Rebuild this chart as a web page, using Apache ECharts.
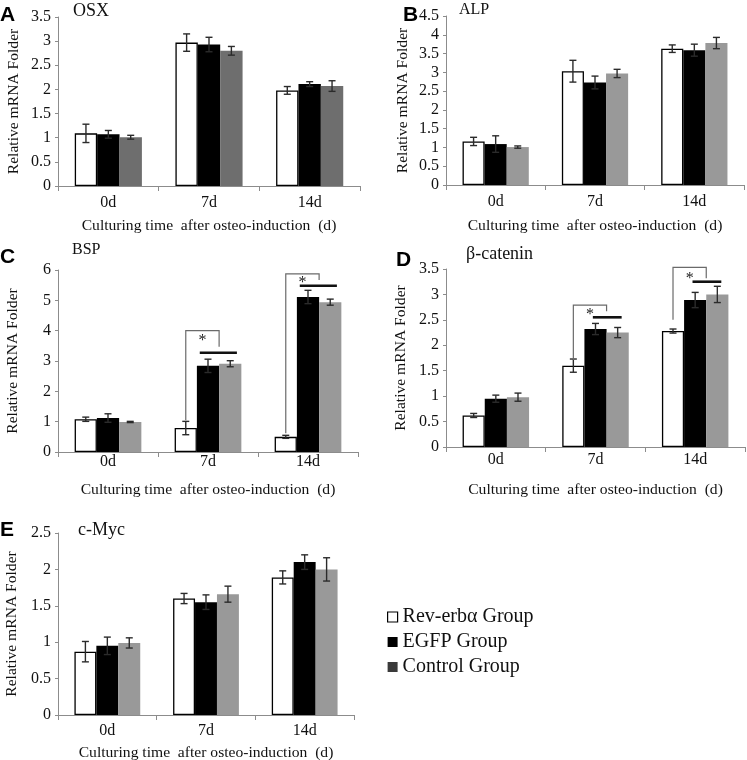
<!DOCTYPE html>
<html><head><meta charset="utf-8">
<script src="https://cdn.jsdelivr.net/npm/echarts@6/dist/echarts.min.js"></script>
<style>html,body{margin:0;padding:0;background:#fff}#c{width:747px;height:760px}</style>
</head><body><div id="c"></div>
<script>
// ---------- data ----------
const categories = ['0d', '7d', '14d'];
const groupNames = ['Rev-erbα Group', 'EGFP Group', 'Control Group'];
const xAxisTitle = 'Culturing time  after osteo-induction  (d)';
const yAxisTitle = 'Relative mRNA Folder';

const osxRev = [1.09, 2.97, 1.98];   const osxRevErr = [0.19, 0.18, 0.08];
const osxEgfp = [1.07, 2.93, 2.11];  const osxEgfpErr = [0.08, 0.15, 0.05];
const osxCtrl = [1.01, 2.80, 2.07];  const osxCtrlErr = [0.04, 0.09, 0.11];

const alpRev = [1.16, 3.03, 3.63];   const alpRevErr = [0.11, 0.29, 0.10];
const alpEgfp = [1.09, 2.73, 3.59];  const alpEgfpErr = [0.22, 0.17, 0.16];
const alpCtrl = [1.01, 2.97, 3.78];  const alpCtrlErr = [0.03, 0.11, 0.15];

const bspRev = [1.08, 0.79, 0.50];   const bspRevErr = [0.07, 0.22, 0.05];
const bspEgfp = [1.12, 2.84, 5.11];  const bspEgfpErr = [0.14, 0.22, 0.22];
const bspCtrl = [0.99, 2.91, 4.94];  const bspCtrlErr = [0.02, 0.10, 0.10];

const catRev = [0.62, 1.60, 2.28];   const catRevErr = [0.04, 0.13, 0.04];
const catEgfp = [0.95, 2.32, 2.89];  const catEgfpErr = [0.07, 0.11, 0.15];
const catCtrl = [0.98, 2.25, 3.00];  const catCtrlErr = [0.08, 0.10, 0.16];

const mycRev = [0.87, 1.60, 1.89];   const mycRevErr = [0.14, 0.07, 0.09];
const mycEgfp = [0.95, 1.55, 2.10];  const mycEgfpErr = [0.12, 0.10, 0.10];
const mycCtrl = [0.99, 1.66, 2.00];  const mycCtrlErr = [0.07, 0.11, 0.16];

// significance brackets: [category, leftLegBottom, top, rightLegBottom, barLine, star]
const bspBrackets = [[1, 1.05, 4.00, 3.47, 3.27, 3.80], [2, 0.62, 5.87, 5.67, 5.48, 5.70]];
const catBrackets = [[1, 1.71, 2.79, 2.67, 2.55, 2.68], [2, 2.50, 3.53, 3.32, 3.25, 3.39]];

const panels = [
  {letter: 'A', gene: 'OSX', vals: [osxRev, osxEgfp, osxCtrl], errs: [osxRevErr, osxEgfpErr, osxCtrlErr], max: 3.5, interval: 0.5, brackets: null},
  {letter: 'B', gene: 'ALP', vals: [alpRev, alpEgfp, alpCtrl], errs: [alpRevErr, alpEgfpErr, alpCtrlErr], max: 4.5, interval: 0.5, brackets: null},
  {letter: 'C', gene: 'BSP', vals: [bspRev, bspEgfp, bspCtrl], errs: [bspRevErr, bspEgfpErr, bspCtrlErr], max: 6, interval: 1, brackets: bspBrackets},
  {letter: 'D', gene: 'β-catenin', vals: [catRev, catEgfp, catCtrl], errs: [catRevErr, catEgfpErr, catCtrlErr], max: 3.5, interval: 0.5, brackets: catBrackets},
  {letter: 'E', gene: 'c-Myc', vals: [mycRev, mycEgfp, mycCtrl], errs: [mycRevErr, mycEgfpErr, mycCtrlErr], max: 2.5, interval: 0.5, brackets: null}
];

// ---------- layout / style ----------
const SERIF = "'Liberation Serif','Times New Roman',serif";
const SANS = "'Liberation Sans',Arial,sans-serif";
const GAP = 0.333;
const AXIS_COLOR = '#8c8c8c';
const layout = [
  {grid: {left: 58, top: 17, width: 302, height: 169}, letter: [0, 16], gene: [73, 12, 18], lblMargin: 9, nameGap: 32, yNameGap: 36, gray: '#6e6e6e', line: null},
  {grid: {left: 446, top: 16, width: 298, height: 169}, letter: [403, 16], gene: [459, 11, 16], lblMargin: 9, nameGap: 33, yNameGap: 35, gray: '#999999', line: null},
  {grid: {left: 58, top: 270, width: 300, height: 182}, letter: [0, 258], gene: [72, 251, 16], lblMargin: 2, nameGap: 30, yNameGap: 37, gray: '#999999', line: [-0.37, 1.3]},
  {grid: {left: 446, top: 269, width: 299, height: 178}, letter: [396, 261], gene: [466, 255, 18], lblMargin: 5, nameGap: 35, yNameGap: 37, gray: '#999999', line: [-0.12, 1.18]},
  {grid: {left: 58, top: 533, width: 296, height: 182}, letter: [0, 531], gene: [78, 531, 18], lblMargin: 8, nameGap: 30, yNameGap: 38, gray: '#999999', line: null}
];

function errRender(params, api) {
  const cat = api.value(0), s = api.value(1), v = api.value(2), e = api.value(3);
  const band = api.size([1, 0])[0];
  const bw = band * (1 - GAP) / 3;
  const x = api.coord([cat, v])[0] + (s - 1) * bw;
  const yT = api.coord([cat, v + e])[1], yB = api.coord([cat, v - e])[1];
  const cap = 3.5, st = {stroke: '#2b2b2b', lineWidth: 1.4};
  return {type: 'group', children: [
    {type: 'line', shape: {x1: x, y1: yT, x2: x, y2: yB}, style: st},
    {type: 'line', shape: {x1: x - cap, y1: yT, x2: x + cap, y2: yT}, style: st},
    {type: 'line', shape: {x1: x - cap, y1: yB, x2: x + cap, y2: yB}, style: st}
  ]};
}

function makeBracketRender(lineExt) {
  return function (params, api) {
    const cat = api.value(0);
    const band = api.size([1, 0])[0];
    const bw = band * (1 - GAP) / 3;
    const cx = api.coord([cat, 0])[0];
    const xl = cx - bw, xr = cx + bw / 2;
    const y = (v) => api.coord([cat, v])[1];
    const yLB = y(api.value(1)), yTop = y(api.value(2)), yRB = y(api.value(3)), yLine = y(api.value(4)), yStar = y(api.value(5));
    return {type: 'group', children: [
      {type: 'polyline', shape: {points: [[xl, yLB], [xl, yTop], [xr, yTop], [xr, yRB]]}, style: {stroke: '#6a6a6a', lineWidth: 1.2, fill: null}},
      {type: 'line', shape: {x1: cx + lineExt[0] * bw, y1: yLine, x2: cx + lineExt[1] * bw, y2: yLine}, style: {stroke: '#111', lineWidth: 2.6}},
      {type: 'text', x: (xl + xr) / 2, y: yStar + 4, style: {text: '*', font: '16px ' + SERIF, fill: '#222', align: 'center', verticalAlign: 'middle'}}
    ]};
  };
}

const grids = [], xAxes = [], yAxes = [], series = [], graphics = [];
panels.forEach((p, i) => {
  const L = layout[i];
  grids.push(Object.assign({outerBoundsMode: 'none', containLabel: false}, L.grid));
  xAxes.push({
    type: 'category', gridIndex: i, data: categories,
    name: xAxisTitle, nameLocation: 'middle', nameGap: L.nameGap,
    nameTextStyle: {fontFamily: SERIF, fontSize: 15.6, color: '#111'},
    axisLine: {show: true, lineStyle: {color: AXIS_COLOR, width: 1}},
    axisTick: {show: true, alignWithLabel: false, length: 5, lineStyle: {color: AXIS_COLOR}},
    axisLabel: {interval: 0, margin: L.lblMargin, fontFamily: SERIF, fontSize: 16, color: '#111'},
    splitLine: {show: false}
  });
  yAxes.push({
    type: 'value', gridIndex: i, min: 0, max: p.max, interval: p.interval,
    name: yAxisTitle, nameLocation: 'middle', nameRotate: 90, nameGap: L.yNameGap,
    nameTextStyle: {fontFamily: SERIF, fontSize: 15.6, color: '#111'},
    axisLine: {show: true, lineStyle: {color: AXIS_COLOR, width: 1}},
    axisTick: {show: true, length: 3, lineStyle: {color: AXIS_COLOR}},
    axisLabel: {margin: 7, fontFamily: SERIF, fontSize: 16, color: '#111', showMinLabel: true, showMaxLabel: true},
    splitLine: {show: false}
  });
  const styles = [
    {color: '#ffffff', borderColor: '#000', borderWidth: 1.3},
    {color: '#000000'},
    {color: L.gray}
  ];
  p.vals.forEach((arr, s) => {
    series.push({
      type: 'bar', name: groupNames[s], xAxisIndex: i, yAxisIndex: i, data: arr,
      barGap: '0%', barCategoryGap: (GAP * 100) + '%', itemStyle: styles[s],
      emphasis: {disabled: true}, animation: false, z: 2
    });
  });
  const errData = [];
  p.vals.forEach((arr, s) => arr.forEach((v, c) => errData.push([c, s, v, p.errs[s][c]])));
  series.push({type: 'custom', xAxisIndex: i, yAxisIndex: i, data: errData, renderItem: errRender,
    encode: {x: 0, y: 2}, z: 5, animation: false, silent: true});
  if (p.brackets) {
    series.push({type: 'custom', xAxisIndex: i, yAxisIndex: i, data: p.brackets, renderItem: makeBracketRender(L.line),
      encode: {x: 0, y: 2}, z: 6, animation: false, silent: true});
  }
  graphics.push({type: 'text', left: L.letter[0], top: L.letter[1] - 11,
    style: {text: p.letter, font: 'bold 21px ' + SANS, fill: '#000'}});
  graphics.push({type: 'text', left: L.gene[0], top: L.gene[1] - L.gene[2] / 2 - 1,
    style: {text: p.gene, font: L.gene[2] + 'px ' + SERIF, fill: '#111'}});
});

const legendText = {
  fontFamily: SERIF, fontSize: 20, color: '#111',
  rich: {s: {fontFamily: SERIF, fontSize: 20, color: '#111'}}
};
const chart = echarts.init(document.getElementById('c'), null, {renderer: 'canvas'});
chart.setOption({
  backgroundColor: '#ffffff',
  animation: false,
  grid: grids, xAxis: xAxes, yAxis: yAxes, series: series,
  graphic: graphics,
  legend: {
    orient: 'vertical', left: 382, top: 602, itemWidth: 10, itemHeight: 10, itemGap: 5,
    icon: 'rect', selectedMode: false,
    formatter: '{s|{name}}',
    textStyle: legendText,
    data: [
      {name: groupNames[0], itemStyle: {color: '#ffffff', borderColor: '#000', borderWidth: 1.2}},
      {name: groupNames[1], itemStyle: {color: '#000000', borderColor: '#000000', borderWidth: 0}},
      {name: groupNames[2], itemStyle: {color: '#3a3a3a', borderColor: '#3a3a3a', borderWidth: 0}}
    ]
  }
});
</script></body></html>
